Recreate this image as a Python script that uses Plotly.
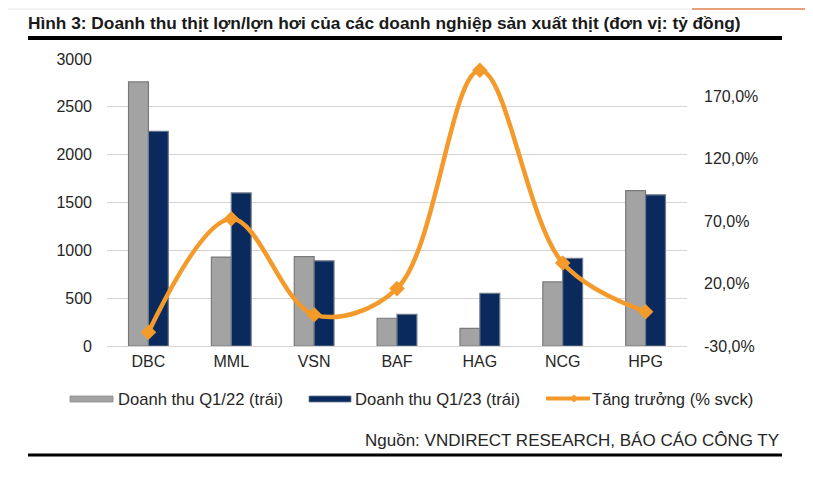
import plotly.graph_objects as go

categories = ["DBC", "MML", "VSN", "BAF", "HAG", "NCG", "HPG"]
rev_q1_22 = [2760, 930, 935, 290, 185, 670, 1625]
rev_q1_23 = [2245, 1600, 890, 330, 550, 915, 1580]
growth_pct = [-19.0, 72.0, -5.0, 16.0, 191.0, 36.5, -2.5]

left_ticks = [0, 500, 1000, 1500, 2000, 2500, 3000]
right_ticks = [-30, 20, 70, 120, 170]
right_tick_labels = ["-30,0%", "20,0%", "70,0%", "120,0%", "170,0%"]

series_names = ["Doanh thu Q1/22 (trái)", "Doanh thu Q1/23 (trái)", "Tăng trưởng (% svck)"]

OFF = 8  # page body margin
W, H = 813 - OFF, 483 - OFF
# plot area in reference-picture pixels
RL, RR, RT, RB = 107, 687, 59, 346
L, R, T, B = RL - OFF, RR - OFF, RT - OFF, RB - OFF
PW, PH = R - L, B - T


def px(x):
    return (x - OFF - L) / PW


def py(y):
    return (B - (y - OFF)) / PH


FONT = "Liberation Sans, Arial, sans-serif"
GRAY = "#A3A3A3"
NAVY = "#0A2A5E"
ORANGE = "#F39A2B"
TXT = "#262626"

fig = go.Figure()
fig.add_trace(go.Bar(
    x=categories, y=rev_q1_22, name=series_names[0],
    marker=dict(color=GRAY, line=dict(color="#7A7A7A", width=1.2)),
))
fig.add_trace(go.Bar(
    x=categories, y=rev_q1_23, name=series_names[1],
    marker=dict(color=NAVY, line=dict(color="#6E7A8A", width=1.2)),
))
fig.add_trace(go.Scatter(
    x=categories, y=growth_pct, name=series_names[2], yaxis="y2",
    mode="lines+markers",
    line=dict(color=ORANGE, width=4.5, shape="spline", smoothing=1.0),
    marker=dict(symbol="diamond", size=12, color=ORANGE),
))

fig.update_layout(
    width=W, height=H,
    margin=dict(l=L, r=W - R, t=T, b=H - B, autoexpand=False),
    paper_bgcolor="white", plot_bgcolor="white",
    barmode="group", bargap=0.52, bargroupgap=0.0,
    font=dict(family=FONT, size=16, color=TXT),
    title=dict(
        text="<b>Hình 3: Doanh thu thịt lợn/lợn hơi của các doanh nghiệp sản xuất thịt (đơn vị: tỷ đồng)</b>",
        x=(28 - OFF) / W, xanchor="left", y=1 - (22.5 - OFF) / H, yanchor="middle", yref="container",
        font=dict(family=FONT, size=17.3, color="#1a1a1a"),
    ),
    xaxis=dict(
        showgrid=False, showline=False, ticks="", zeroline=False,
        tickfont=dict(size=16, color=TXT), ticklabelstandoff=4,
    ),
    yaxis=dict(
        range=[0, 3000], tickvals=left_ticks, showgrid=True, gridcolor="#D4D4D4",
        gridwidth=1.2, zeroline=True, zerolinecolor="#D4D4D4", zerolinewidth=1.2,
        showline=False, ticks="", ticklabelstandoff=14,
        tickfont=dict(size=16, color=TXT),
    ),
    yaxis2=dict(
        overlaying="y", side="right", range=[-30, 200],
        tickvals=right_ticks, ticktext=right_tick_labels,
        showgrid=False, zeroline=False, showline=False, ticks="",
        ticklabelstandoff=16,
        tickfont=dict(size=16, color=TXT),
    ),
    showlegend=False,
)

# legend (drawn manually to match the flat swatches of the original)
leg_y = 399
leg_font = dict(family=FONT, size=16.6, color=TXT)
for name, xpos in zip(series_names, [116, 353, 590]):
    fig.add_annotation(text=name, xref="paper", yref="paper", x=px(xpos), y=py(leg_y),
                       xanchor="left", yanchor="middle", showarrow=False, font=leg_font)

fig.add_annotation(
    text="Nguồn: VNDIRECT RESEARCH, BÁO CÁO CÔNG TY",
    xref="paper", yref="paper", x=px(781), y=py(440), xanchor="right", yanchor="middle",
    showarrow=False, font=dict(family=FONT, size=17, color=TXT),
)

shapes = [
    # legend swatches
    dict(type="rect", xref="paper", yref="paper", x0=px(70), x1=px(113), y0=py(396), y1=py(402),
         fillcolor=GRAY, line=dict(color="#8A8A8A", width=0.8)),
    dict(type="rect", xref="paper", yref="paper", x0=px(309), x1=px(351), y0=py(396), y1=py(402),
         fillcolor=NAVY, line=dict(color="#6E7A8A", width=0.8)),
    dict(type="line", xref="paper", yref="paper", x0=px(546), x1=px(590), y0=py(398.5), y1=py(398.5),
         line=dict(color=ORANGE, width=4)),
    dict(type="path", xref="paper", yref="paper",
         path=f"M {px(574)},{py(394.5)} L {px(578)},{py(398.5)} L {px(574)},{py(402.5)} L {px(570)},{py(398.5)} Z",
         fillcolor=ORANGE, line=dict(color=ORANGE, width=0)),
    # rules
    dict(type="line", xref="paper", yref="paper", x0=px(28), x1=px(782), y0=py(38), y1=py(38),
         line=dict(color="black", width=4)),
    dict(type="line", xref="paper", yref="paper", x0=px(28), x1=px(782), y0=py(455), y1=py(455),
         line=dict(color="black", width=3)),
    dict(type="line", xref="paper", yref="paper", x0=px(8), x1=px(690), y0=py(9), y1=py(9),
         line=dict(color="#E6E6E6", width=1)),
    dict(type="line", xref="paper", yref="paper", x0=px(692), x1=px(813), y0=py(9), y1=py(9),
         line=dict(color="#E8A07C", width=2)),
]
fig.update_layout(shapes=shapes)

fig.write_html("out.html")
